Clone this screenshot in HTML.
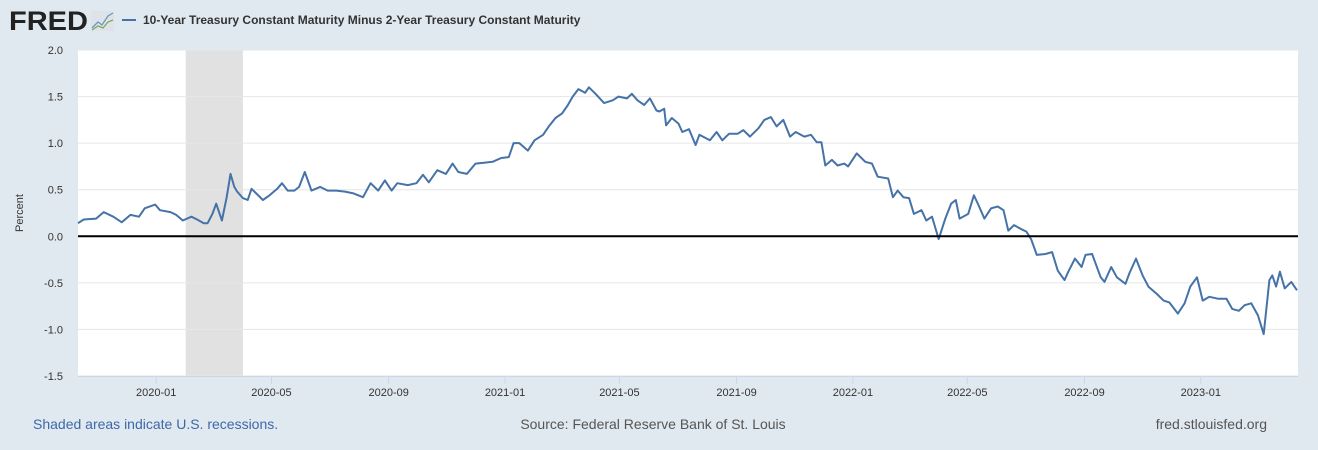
<!DOCTYPE html>
<html><head><meta charset="utf-8"><style>
body{margin:0;background:#e1e9f0;font-family:"Liberation Sans",sans-serif;}
svg{display:block}
</style></head><body>
<svg id="chart" width="1318" height="450">
<rect x="0" y="0" width="1318" height="450" fill="#e1e9f0"/>
<g>
<text x="9" y="30" font-size="27" font-weight="bold" fill="#222" textLength="79" lengthAdjust="spacingAndGlyphs">FRED</text>
<rect x="91" y="11" width="23" height="20" fill="#dde3e8"/>
<polyline points="92,28 98,22 102,25 108,16 113,13" fill="none" stroke="#6e95c0" stroke-width="1.3"/>
<polyline points="92,30 98,26 103,28 108,22 113,20" fill="none" stroke="#7cab5c" stroke-width="1.3"/>
</g>
<line x1="122" y1="20" x2="136" y2="20" stroke="#4572a7" stroke-width="2"/>
<text x="143" y="24" font-size="12" font-weight="bold" fill="#333">10-Year Treasury Constant Maturity Minus 2-Year Treasury Constant Maturity</text>
<rect x="78" y="50" width="1220" height="326" fill="#fff"/>
<g id="recess"></g>
<g id="grid"></g>
<g id="series"></g>
<text transform="translate(23,213) rotate(-90)" text-anchor="middle" font-size="11" fill="#333">Percent</text>
<text x="33" y="429" font-size="14" fill="#3d68a8">Shaded areas indicate U.S. recessions.</text>
<text x="653" y="429" font-size="14" fill="#555" text-anchor="middle">Source: Federal Reserve Bank of St. Louis</text>
<text x="1267" y="429" font-size="14" fill="#555" text-anchor="end">fred.stlouisfed.org</text>
</svg>
<script>
const dayIndex=[-82,-76,-63,-55,-45,-36,-27,-18,-12,-1,4,15,21,28,37,43,50,54,59,63,69,74,78,82,85,91,96,100,105,112,119,127,132,138,145,150,156,163,172,180,189,198,207,217,225,233,240,247,253,264,273,280,286,295,304,311,317,326,335,344,353,362,370,375,381,390,397,406,412,419,426,432,437,443,450,454,461,470,479,485,494,499,505,512,518,525,
528,533,535,541,548,552,559,566,570,581,588,594,601,610,616,623,632,638,645,651,658,665,671,680,687,693,698,702,709,715,722,726,735,744,751,757,768,773,778,784,790,795,803,808,814,821,828,834,839,843,852,858,863,869,876,883,889,894,900,907,913,918,924,933,940,946,953,957,964,971,975,982,991,995,1002,1008,1017,1021,1028,1035,1041,1050,1057,1063,1072,1079,1085,1092,1098,1105,1114,1123,1129,1136,1142,1149,1156,1162,1168,1171,1175,1179,1184,1191,1197];
const spread=[0.14,0.18,0.19,0.26,0.21,0.15,0.23,0.21,0.30,0.34,0.28,0.26,0.23,0.17,0.21,0.18,0.14,0.14,0.24,0.35,0.17,0.42,0.67,0.53,0.48,0.41,0.39,0.51,0.46,0.39,0.44,0.51,0.57,0.49,0.49,0.53,0.69,0.49,0.53,0.49,0.49,0.48,0.46,0.42,0.57,0.49,0.60,0.49,0.57,0.55,0.57,0.66,0.58,0.71,0.67,0.78,0.69,0.67,0.78,0.79,0.80,0.84,0.85,1.00,1.00,0.92,1.03,1.09,1.18,1.27,1.32,1.41,1.50,1.58,1.54,1.60,1.53,1.43,1.46,1.50,1.48,1.53,1.46,1.41,1.48,1.35,
1.34,1.37,1.19,1.27,1.21,1.12,1.15,0.98,1.09,1.03,1.12,1.03,1.10,1.10,1.14,1.07,1.16,1.25,1.28,1.18,1.25,1.07,1.12,1.07,1.09,1.01,1.01,0.76,0.82,0.76,0.78,0.75,0.89,0.80,0.78,0.64,0.62,0.42,0.49,0.42,0.41,0.24,0.28,0.17,0.21,-0.03,0.19,0.35,0.39,0.19,0.24,0.44,0.33,0.19,0.30,0.32,0.28,0.06,0.12,0.08,0.05,-0.03,-0.20,-0.19,-0.17,-0.37,-0.47,-0.38,-0.24,-0.33,-0.20,-0.19,-0.44,-0.49,-0.33,-0.44,-0.51,-0.40,-0.24,-0.42,-0.54,-0.62,-0.69,-0.71,-0.83,-0.72,-0.54,-0.44,-0.69,-0.65,-0.67,-0.67,-0.78,-0.80,-0.74,-0.72,-0.85,-1.05,-0.47,-0.42,-0.54,-0.38,-0.56,-0.49,-0.58];
const yTicks=[2.0,1.5,1.0,0.5,0.0,-0.5,-1.0,-1.5];
const xTickLabels=["2020-01","2020-05","2020-09","2021-01","2021-05","2021-09","2022-01","2022-05","2022-09","2023-01"];
const xTickDays=[0,121,244,366,486,609,731,851,974,1096];
const recessionDays=[31,91];

const NS="http://www.w3.org/2000/svg";
const X0=78,X1=1298,Y0=50,Y1=376,D0=-82,D1=1198,V0=-1.5,V1=2.0;
function xs(d){return X0+(d-D0)/(D1-D0)*(X1-X0);}
function ys(v){return Y1-(v-V0)/(V1-V0)*(Y1-Y0);}
function mk(tag,attrs,parent){const e=document.createElementNS(NS,tag);for(const k in attrs)e.setAttribute(k,attrs[k]);parent.appendChild(e);return e;}
const grid=document.getElementById('grid'),rec=document.getElementById('recess'),ser=document.getElementById('series');
const r=mk('rect',{x:xs(recessionDays[0]),y:Y0,width:xs(recessionDays[1])-xs(recessionDays[0]),height:Y1-Y0,fill:'#e1e1e1'},rec);


yTicks.forEach(v=>{
  if(v!==0){const l=mk('line',{x1:X0,x2:X1,y1:ys(v),y2:ys(v),stroke:'#e6e6e6','stroke-width':1},grid);
  
  }
  const t=mk('text',{x:63,y:ys(v)+4,'text-anchor':'end','font-size':11,fill:'#333'},grid);
  t.textContent=v.toFixed(1);
  
  
});
const ax=mk('line',{x1:X0,x2:X1,y1:Y1+0.5,y2:Y1+0.5,stroke:'#ccd6eb','stroke-width':1},grid);


xTickDays.forEach((d,i)=>{
  const tk=mk('line',{x1:xs(d),x2:xs(d),y1:Y1,y2:Y1+8,stroke:'#ccd6eb'},grid);
  
  
  const t=mk('text',{x:xs(d),y:396,'text-anchor':'middle','font-size':11,fill:'#333'},grid);
  t.textContent=xTickLabels[i];
  
  
});
const pts=dayIndex.map((d,i)=>xs(d).toFixed(1)+','+ys(spread[i]).toFixed(1)).join(' ');
const line=mk('polyline',{points:pts,fill:'none',stroke:'#4572a7','stroke-width':2,'stroke-linejoin':'round'},ser);


const z=mk('line',{x1:X0,x2:X1,y1:ys(0),y2:ys(0),stroke:'#000','stroke-width':2},ser);


</script>
</body></html>
